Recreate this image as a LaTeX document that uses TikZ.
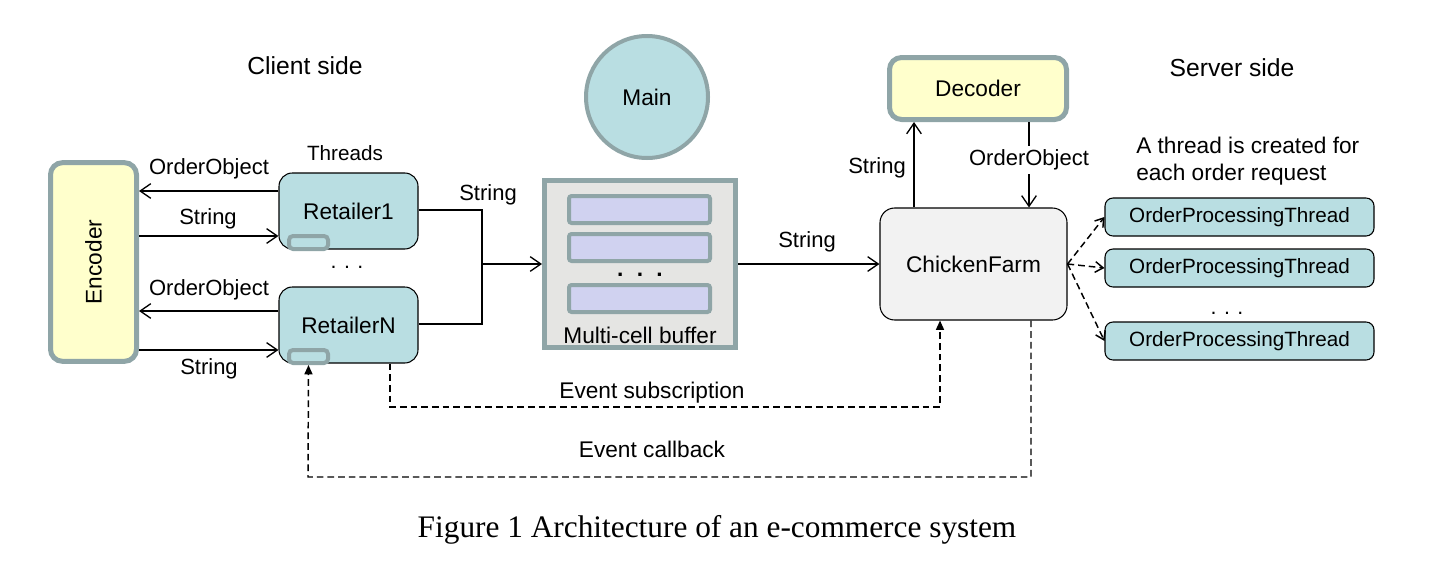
\documentclass[tikz,border=0pt]{standalone}
\usepackage{fontspec}
\setmainfont{Liberation Sans}
\newfontfamily\captionserif{Liberation Serif}
\usetikzlibrary{arrows.meta}
\definecolor{frameGray}{RGB}{143,165,167}
\definecolor{tealFill}{RGB}{185,222,226}
\definecolor{yellowFill}{RGB}{255,255,204}
\definecolor{bufferFill}{RGB}{229,229,227}
\definecolor{cellFill}{RGB}{208,210,240}
\definecolor{farmFill}{RGB}{242,242,242}

\begin{document}
\begin{tikzpicture}[x=0.75pt,y=0.75pt,yscale=-1,xscale=1,
  box/.style={draw,line width=0.8pt,rounded corners=10pt,fill=tealFill,inner sep=0pt,font=\fontsize{17}{20}\selectfont},
  thickbox/.style={draw=frameGray,line width=3.75pt,inner sep=0pt,font=\fontsize{17}{20}\selectfont},
  lbl/.style={inner sep=0.75pt,font=\fontsize{16.5}{19}\selectfont},
  txt/.style={inner sep=0.75pt,font=\fontsize{17}{20.25}\selectfont},
  side/.style={inner sep=0.75pt,font=\fontsize{18.5}{22}\selectfont},
  arr/.style={line width=1pt,-{Straight Barb[length=8pt,width=11pt]}},
  darr/.style={line width=1.1pt,dash pattern=on 5pt off 3pt,-{Straight Barb[length=6pt,width=8pt]}},
  evt/.style={line width=1.1pt,dash pattern=on 5pt off 3pt,-{Triangle[length=7pt,width=6pt]}}]
\useasboundingbox (0,0) rectangle (1455,564);

% Encoder
\node [thickbox,fill=yellowFill,rounded corners=9pt,minimum width=64.5pt,minimum height=149pt] (enc) at (93.5,262) {};
\node [txt,rotate=90] (encText) at (enc.center) {Encoder};

% Retailers
\node [box,minimum width=104.25pt,minimum height=57pt] (ret1) at (348.5,211) {Retailer1};
\node [thickbox,fill=tealFill,line width=3pt,rounded corners=3pt,minimum width=29.25pt,minimum height=9.75pt] (tab1) at (308.5,242.5) {};
\node [box,minimum width=104.25pt,minimum height=57pt] (retN) at (348.5,325) {RetailerN};
\node [thickbox,fill=tealFill,line width=3pt,rounded corners=3pt,minimum width=29.25pt,minimum height=9.75pt] (tabN) at (308.5,356.5) {};
\node [lbl,anchor=base,font=\fontsize{16}{19}\selectfont] (retDots) at (347,268) {.\hspace{5.6pt}.\hspace{5.6pt}.};

% Main
\node [thickbox,circle,fill=tealFill,line width=3pt,minimum size=91.5pt] (main) at (647,97) {Main};

% Multi-cell buffer
\node [thickbox,fill=bufferFill,minimum width=143.25pt,minimum height=125.25pt] (buf) at (640,264) {};
\foreach \cy/\nm in {209.5/cell1,247.5/cell2,298.5/cell3}
  \node [thickbox,fill=cellFill,line width=3pt,rounded corners=2pt,minimum width=105.75pt,minimum height=20.25pt] (\nm) at (639.5,\cy) {};
\node [txt,anchor=base,font=\bfseries\fontsize{17}{20}\selectfont] (bufDots) at (640,276) {.\hspace{10pt}.\hspace{10pt}.};
\node [txt] (bufText) at (640,335) {Multi-cell buffer};

% ChickenFarm and Decoder
\node [draw,line width=0.8pt,rounded corners=11pt,fill=farmFill,inner sep=0pt,minimum width=140.25pt,minimum height=84pt,font=\fontsize{17}{20}\selectfont] (farm) at (973.5,264) {ChickenFarm};
\node [thickbox,fill=yellowFill,rounded corners=9pt,minimum width=132.75pt,minimum height=46.5pt] (dec) at (978,88.5) {Decoder};

% Order processing threads
\foreach \i/\y in {1/217,2/268,3/341}
  \node [box,rounded corners=6pt,minimum width=201.75pt,minimum height=28.5pt,font=\fontsize{15.5}{18}\selectfont] (opt\i) at (1239.5,\y) {OrderProcessingThread};
\node [lbl,anchor=base,font=\fontsize{16}{19}\selectfont] (optDots) at (1227,314) {.\hspace{5.6pt}.\hspace{5.6pt}.};

%Straight Lines
\draw [arr] (ret1.west |- 0,191) -- (enc.east |- 0,191);
\draw [arr] (enc.east |- 0,236) -- (ret1.west |- 0,236);
\draw [arr] (retN.west |- 0,311) -- (enc.east |- 0,311);
\draw [arr] (enc.east |- 0,350) -- (retN.west |- 0,350);
\coordinate (join) at (482,264);
\draw [line width=1pt] (ret1.east |- 0,210) -| (join) |- (retN.east |- 0,324);
\draw [arr] (join) -- (buf.west);
\draw [arr] (buf.east) -- (farm.west);
\draw [arr] (farm.north -| 914,0) -- (dec.south -| 914,0);
\draw [arr] (dec.south -| 1029,0) -- (farm.north -| 1029,0);
\foreach \i in {1,2,3}
  \draw [darr] (farm.east) -- (opt\i.west);

%Dashed event lines
\draw [evt] (retN.south -| 390,0) |- (940,407) -- (farm.south -| 940,0);
\draw [evt] (farm.south -| 1031,0) |- (308,477) -- (tabN.south);

% Text Node
\node [side] (client) at (305,66) {Client side};
\node [side] (server) at (1232,68) {Server side};
\node [lbl,font=\fontsize{15.5}{18}\selectfont] (threads) at (345,153) {Threads};
\node [lbl] (oo1) at (209,169) {OrderObject};
\node [lbl] (str1) at (208,219) {String};
\node [lbl] (ooN) at (209,290) {OrderObject};
\node [lbl] (strN) at (209,369) {String};
\node [lbl] (strBuf) at (488,195) {String};
\node [lbl] (strFarm) at (807,242) {String};
\node [lbl,anchor=east] (strDec) at (907,168) {String};
\node [lbl,fill=white,inner sep=3pt] (ooDec) at (1029,160) {OrderObject};
\node [txt,align=left,anchor=west] (note) at (1135,161) {A thread is created for\\each order request};
\node [txt] (subText) at (652,393) {Event subscription};
\node [txt] (cbText) at (652,449) {Event callback};
\node [inner sep=0.75pt,font=\captionserif\fontsize{23.5}{28}\selectfont] (caption) at (717,530) {Figure 1 Architecture of an e-commerce system};

\end{tikzpicture}
\end{document}
